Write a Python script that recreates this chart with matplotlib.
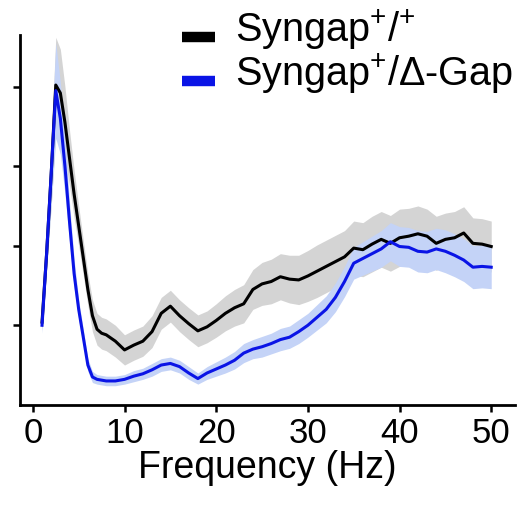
import matplotlib.pyplot as plt
import numpy as np

plt.rcParams['font.family'] = ['Liberation Sans', 'DejaVu Sans']
plt.rcParams['mathtext.fontset'] = 'custom'
plt.rcParams['mathtext.rm'] = 'Liberation Sans'
plt.rcParams['mathtext.it'] = 'Liberation Sans:italic'

# frequency (Hz)
freq = [1, 1.5, 2, 2.5, 3, 3.5, 4, 4.5, 5, 5.5, 6, 6.5, 7, 7.5, 8] + list(range(9, 51))

# wild type mean / sem
wt_mean = [1.04, 1.9, 2.9, 4.02, 3.92, 3.55, 3.1, 2.65, 2.25, 1.85, 1.45, 1.12, 0.95, 0.90, 0.88,
           0.80, 0.69, 0.75, 0.80, 0.92, 1.15, 1.24, 1.12, 1.02, 0.93, 0.98,
           1.06, 1.15, 1.22, 1.27, 1.45, 1.52, 1.55, 1.61, 1.58, 1.57,
           1.62, 1.68, 1.74, 1.80, 1.86, 1.97, 1.95, 2.02, 2.08, 2.03,
           2.10, 2.12, 2.15, 2.12, 2.03, 2.08, 2.10, 2.16, 2.03, 2.02, 1.99]
wt_sem = [0.1, 0.2, 0.4, 0.6, 0.55, 0.45, 0.35, 0.3, 0.25, 0.22, 0.2, 0.2, 0.2, 0.2, 0.2,
          0.2, 0.19, 0.19, 0.19, 0.2, 0.2, 0.2, 0.2, 0.2, 0.2, 0.2,
          0.21, 0.22, 0.23, 0.24, 0.25, 0.27, 0.28, 0.29, 0.30, 0.31,
          0.32, 0.33, 0.33, 0.33, 0.33, 0.34, 0.34, 0.35, 0.35, 0.35,
          0.36, 0.35, 0.35, 0.34, 0.34, 0.33, 0.33, 0.33, 0.32, 0.32, 0.32]

# Delta-GAP mean / sem
gap_mean = [1.0, 1.9, 2.9, 3.95, 3.6, 3.0, 2.3, 1.65, 1.2, 0.85, 0.5, 0.35, 0.32, 0.31, 0.30,
            0.30, 0.32, 0.36, 0.39, 0.44, 0.50, 0.52, 0.48, 0.40, 0.33, 0.40,
            0.45, 0.50, 0.56, 0.65, 0.70, 0.73, 0.77, 0.82, 0.85, 0.92,
            1.00, 1.10, 1.20, 1.35, 1.55, 1.78, 1.84, 1.90, 1.96, 2.05,
            1.99, 1.98, 1.93, 1.92, 1.96, 1.93, 1.88, 1.82, 1.73, 1.74, 1.73]
gap_sem = [0.1, 0.2, 0.4, 0.6, 0.45, 0.35, 0.25, 0.18, 0.12, 0.1, 0.08, 0.07, 0.06, 0.06, 0.06,
           0.06, 0.06, 0.07, 0.07, 0.08, 0.08, 0.08, 0.08, 0.08, 0.07, 0.08,
           0.09, 0.10, 0.11, 0.12, 0.12, 0.13, 0.13, 0.14, 0.14, 0.15,
           0.15, 0.16, 0.17, 0.18, 0.19, 0.20, 0.21, 0.22, 0.23, 0.24,
           0.25, 0.25, 0.26, 0.26, 0.26, 0.27, 0.27, 0.27, 0.27, 0.27, 0.27]

freq = np.array(freq)
wt_mean, wt_sem = np.array(wt_mean), np.array(wt_sem)
gap_mean, gap_sem = np.array(gap_mean), np.array(gap_sem)

fig = plt.figure(figsize=(5.2, 5.06), dpi=100)
ax = fig.add_axes([0.0385, 0.198, 0.952, 0.731])

ax.fill_between(freq, wt_mean - wt_sem, wt_mean + wt_sem, color='#d4d4d4', lw=0)
ax.fill_between(freq, gap_mean - gap_sem, gap_mean + gap_sem, color='#c4d3f7', lw=0)
ax.plot(freq, wt_mean, color='black', lw=2.2, label='Syngap$^{+}$/$^{+}$')
ax.plot(freq, gap_mean, color='#0a14e6', lw=2.2, label='Syngap$^{+}$/Δ-Gap')

ax.set_xlim(-1.4, 52.6)
ax.set_ylim(0, 4.65)
ax.set_xticks([0, 10, 20, 30, 40, 50])
ax.set_yticks([1, 2, 3, 4])
ax.set_yticklabels([])
ax.set_xlabel('Frequency (Hz)', fontsize=27, labelpad=0)
ax.tick_params(axis='x', labelsize=25, width=1.8, length=5, pad=3)
ax.tick_params(axis='y', width=1.8, length=5)
for s in ['top', 'right']:
    ax.spines[s].set_visible(False)
for s in ['left', 'bottom']:
    ax.spines[s].set_linewidth(2)

leg = ax.legend(loc='upper right', bbox_to_anchor=(1.027, 1.12), frameon=False, fontsize=28.5,
                handlelength=0.84, handletextpad=0.5, labelspacing=0.0, borderaxespad=0)
for h in leg.legend_handles:
    h.set_linewidth(7.5)
    h.set_solid_capstyle('butt')
    # sit the colour bars a little lower, next to the lower half of the text
    h.set_ydata(np.asarray(h.get_ydata()) - 7.5)

fig.savefig('out.png', dpi=100)
